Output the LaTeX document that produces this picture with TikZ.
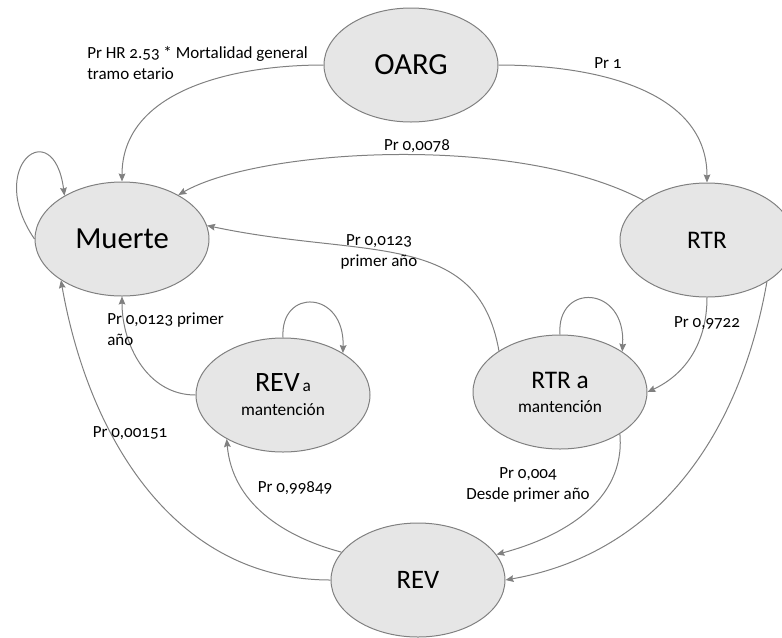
\documentclass[tikz,border=0pt]{standalone}
\usepackage{fontspec}
\setmainfont{Carlito}[Numbers=OldStyle]
\usepackage{xcolor}
\usetikzlibrary{shapes.geometric,arrows.meta}

\definecolor{edgegray}{HTML}{808080}
\definecolor{statefill}{HTML}{E6E6E6}

\tikzset{
  statenode/.style={ellipse, draw=edgegray, fill=statefill, line width=0.75pt,
    minimum width=130.5pt, minimum height=85.5pt, inner sep=0pt, align=center},
  trans/.style={draw=edgegray, line width=0.75pt, -{Stealth[length=6pt,width=5pt,inset=0.8pt]}},
  prob/.style={inner sep=0.75pt, font=\fontsize{12.75}{15.75}\selectfont},
}

\begin{document}
\begin{tikzpicture}[x=0.75pt,y=0.75pt,yscale=-1,xscale=1]
\useasboundingbox (0,0) rectangle (782,637);

%States
\node[statenode, font=\fontsize{23}{26}\selectfont] (oarg) at (411,65) {OARG};
\node[statenode, font=\fontsize{23}{26}\selectfont] (muerte) at (122,239) {Muerte};
\node[statenode, font=\fontsize{19}{22}\selectfont] (rtr) at (707,240) {RTR};
\node[statenode, font=\fontsize{13}{18}\selectfont] (rtrm) at (560,392) {{\fontsize{19}{18}\selectfont RTR a}\\mantención};
\node[statenode, font=\fontsize{13}{18}\selectfont] (revm) at (283,395) {{\fontsize{21}{18}\selectfont REV}\,a\\mantención};
\node[statenode, font=\fontsize{20}{24}\selectfont] (rev) at (418,580) {REV};

%Transitions (angles flipped, y runs down)
\draw[trans] (oarg.west) to[out=180,in=-90] (muerte.north);
\draw[trans] (oarg.east) to[out=0,in=-90] (rtr.north);
\draw[trans] (rtr.148) to[out=-152,in=-30,out looseness=0.8,in looseness=0.5] (muerte.38);
\draw[trans] (rtrm.146) to[out=-100,in=12,out looseness=1.0,in looseness=1.3] (muerte.9);
\draw[trans] (revm.west) to[out=180,in=90] (muerte.south);
\draw[trans] (rev.west) to[out=180,in=80] (muerte.214);
\draw[trans] (rev.160) to[out=-165,in=85] (revm.218);
\draw[trans] (rtrm.-35) to[out=85,in=-15] (rev.18);
\draw[trans] (rtr.-35) to[out=100,in=-10] (rev.east);
\draw[trans] (rtr.south) to[out=90,in=-25] (rtrm.east);

%Self loops
\draw[trans] (muerte.west) .. controls +(-50,-73) and +(-11,-83) .. (muerte.143);
\draw[trans] (revm.north) .. controls +(-3,-50) and +(2,-63) .. (revm.35);
\draw[trans] (rtrm.north) .. controls +(-4,-52) and +(4,-67) .. (rtrm.33);

% Text Node
\node[prob, anchor=west, align=left] (lbloarg) at (86,63) {Pr HR 2.53 * Mortalidad general\\tramo etario};
\node[prob] (lbluno) at (608,63) {Pr 1};
\node[prob] (lblrtr) at (417,146) {Pr 0,0078};
\node[prob, align=center] (lblrtrm) at (379,252) {Pr 0,0123\\primer año};
\node[prob, anchor=west, align=left] (lblrevm) at (106,329) {Pr 0,0123 primer\\año};
\node[prob] (lblrev) at (130,433) {Pr 0,00151};
\node[prob] (lblrevrevm) at (295,488) {Pr 0,99849};
\node[prob, align=center] (lbldesde) at (528,485) {Pr 0,004\\Desde primer año};
\node[prob] (lblrtrrtrm) at (707,323) {Pr 0,9722};
\end{tikzpicture}
\end{document}
